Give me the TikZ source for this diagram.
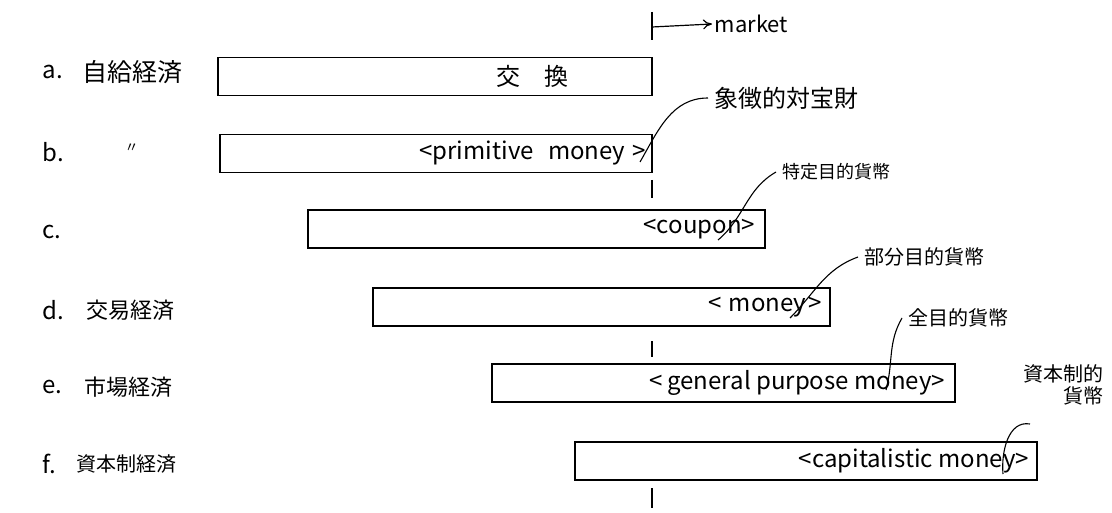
\documentclass[tikz,border=0pt]{standalone}
\usepackage{fontspec}
\setmainfont{Noto Sans CJK JP}
\usetikzlibrary{positioning,arrows.meta}

\begin{document}
\begin{tikzpicture}[x=1pt,y=-1pt,line width=1.4pt]
        \tikzstyle{every node}=[font=\fontsize{20}{22}\selectfont, inner sep=2pt]
        \tikzstyle{stagebox}=[draw, minimum height=38pt, inner sep=0pt]
        \tikzstyle{rowname}=[anchor=west, font=\fontsize{22}{24}\selectfont]
        \tikzstyle{money}=[anchor=east, font=\fontsize{24}{26}\selectfont]
        \tikzstyle{kind}=[font=\fontsize{20}{22}\selectfont, inner sep=6pt]

        \useasboundingbox (0,0) rectangle (1112,513);

        % market line
        \coordinate (m0) at (652,12);
        \coordinate (m1) at (652,40);
        \coordinate (m) at (652,27);
        \node (mk) [anchor=west, font=\fontsize{22}{24}\selectfont] at (712,24) {market};
        \draw (m0) -- (m1);
        \draw[-{>[length=9pt,width=10pt]}, line width=1.2pt] (m) -- (mk.west);

        % rows
        \node (ra) [rowname, font=\fontsize{24}{26}\selectfont] at (40,72)  {a.};
        \node (rb) [rowname, font=\fontsize{24}{26}\selectfont] at (40,152) {b.};
        \node (rc) [rowname, font=\fontsize{24}{26}\selectfont] at (40,232) {c.};
        \node (rd) [rowname, font=\fontsize{24}{26}\selectfont] at (40,310) {d.};
        \node (re) [rowname, font=\fontsize{24}{26}\selectfont] at (40,387) {e.};
        \node (rf) [rowname, font=\fontsize{24}{26}\selectfont] at (40,464) {f.};

        \node (na) [rowname, font=\fontsize{25}{27}\selectfont] at (80,72) {自給経済};
        \node (nb) [rowname, font=\fontsize{14}{16}\selectfont] at (122,148) {〃};
        \node (nd) [rowname] at (84,310)  {交易経済};
        \node (ne) [rowname] at (82,387)  {市場経済};
        \node (nf) [rowname, font=\fontsize{20}{22}\selectfont] at (74,464) {資本制経済};

        % boxes
        \node (a) [stagebox, minimum width=434pt] at (435,76.5)  {};
        \node (b) [stagebox, minimum width=432pt] at (436,153.5) {};
        \node (c) [stagebox, minimum width=457pt] at (536.5,229) {};
        \node (d) [stagebox, minimum width=457pt] at (601.5,307) {};
        \node (e) [stagebox, minimum width=463pt] at (723.5,383) {};
        \node (f) [stagebox, minimum width=462pt] at (806,461)   {};

        \node (ta) [font=\fontsize{24}{26}\selectfont] at (532,76) {交\hspace{1em}換};
        \node (tb) [money] at ([xshift=-4pt]b.east) {\textless primitive\hspace{0.6em}money\hspace{0.3em}\textgreater};
        \node (tc) [money] at ([xshift=-8pt]c.east) {\textless coupon\textgreater};
        \node (td) [money] at ([xshift=-6pt]d.east) {\textless\hspace{0.3em}money\hspace{0.1em}\textgreater};
        \node (te) [money] at ([xshift=-8pt]e.east) {\textless\hspace{0.2em}general purpose money\textgreater};
        \node (tf) [money] at ([xshift=-6pt]f.east) {\textless capitalistic money\textgreater};

        % ticks on the market line
        \draw (652,180) -- (652,198);
        \draw (652,341) -- (652,357);
        \draw (652,488) -- (652,508);

        % kinds of money
        \node (kb) [kind, anchor=west, font=\fontsize{24}{26}\selectfont] at (708,98) {象徴的対宝財};
        \node (kc) [kind, anchor=west, font=\fontsize{18}{20}\selectfont] at (776,172) {特定目的貨幣};
        \node (kd) [kind, anchor=west] at (858,257) {部分目的貨幣};
        \node (ke) [kind, anchor=west] at (902,318) {全目的貨幣};
        \node (kf) [kind, align=right, anchor=north east, inner sep=2pt] at (1106,362) {資本制的\\貨幣};

        \coordinate (pb) at (640,162);
        \coordinate (pc) at (718,240);
        \coordinate (pd) at (790,318);
        \coordinate (pe) at (886,390);
        \coordinate (pf) at (1003,474);
        \coordinate (qf) at (1030,424);

        \draw[line width=1.1pt] (pb) to[out=60,in=180] (kb.west);
        \draw[line width=1.1pt] (pc) to[out=40,in=210] (kc.west);
        \draw[line width=1.1pt] (pd) to[out=45,in=200] (kd.west);
        \draw[line width=1.1pt] (pe) to[out=75,in=240] (ke.west);
        \draw[line width=1.1pt] (pf) to[out=95,in=170] (qf);
\end{tikzpicture}
\end{document}
